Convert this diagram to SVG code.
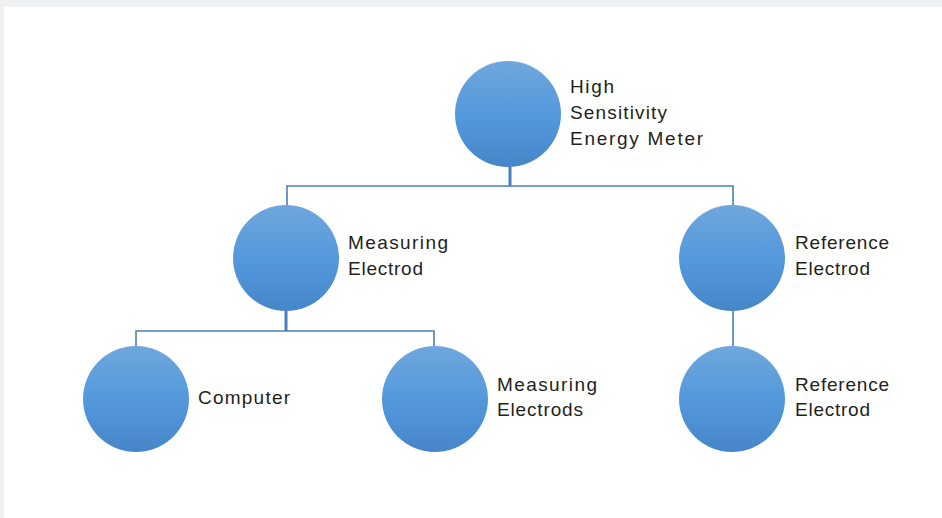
<svg xmlns="http://www.w3.org/2000/svg" width="942" height="518" viewBox="0 0 942 518">
  <defs>
    <linearGradient id="g" x1="0" y1="0" x2="0" y2="1">
      <stop offset="0" stop-color="#6fa7dc"/>
      <stop offset="0.5" stop-color="#5499dc"/>
      <stop offset="1" stop-color="#4686c9"/>
    </linearGradient>
  </defs>
  <style>
    .node circle { fill: url(#g); }
    .lbl { font-family: "Liberation Sans", Arial, sans-serif; font-size: 19px; fill: #231f20; }
    .conn { stroke: #4a80b8; fill: none; stroke-width: 1.6; }
    .stem { stroke-width: 3; }
  </style>
  <rect x="0" y="0" width="942" height="518" fill="#eff0f2"/>
  <rect x="4" y="7" width="938" height="511" fill="#ffffff"/>

  <g id="connectors">
    <path class="conn stem" d="M510 167 V186"/>
    <path class="conn" d="M287 205 V186 H733 V205"/>
    <path class="conn stem" d="M286 311 V331"/>
    <path class="conn" d="M136 347 V331 H434 V347"/>
    <path class="conn" d="M733 311 V347"/>
  </g>

  <g id="node-meter" class="node">
    <circle cx="508" cy="114" r="53"/>
    <text class="lbl" x="570" y="93" textLength="44" lengthAdjust="spacing">High</text>
    <text class="lbl" x="570" y="119" textLength="97" lengthAdjust="spacing">Sensitivity</text>
    <text class="lbl" x="570" y="145" textLength="133" lengthAdjust="spacing">Energy Meter</text>
  </g>

  <g id="node-measuring" class="node">
    <circle cx="286" cy="258" r="53"/>
    <text class="lbl" x="348" y="249" textLength="100" lengthAdjust="spacing">Measuring</text>
    <text class="lbl" x="348" y="275" textLength="75" lengthAdjust="spacing">Electrod</text>
  </g>

  <g id="node-reference" class="node">
    <circle cx="732" cy="258" r="53"/>
    <text class="lbl" x="795" y="249" textLength="94" lengthAdjust="spacing">Reference</text>
    <text class="lbl" x="795" y="275" textLength="75" lengthAdjust="spacing">Electrod</text>
  </g>

  <g id="node-computer" class="node">
    <circle cx="136" cy="399" r="53"/>
    <text class="lbl" x="198" y="404" textLength="92" lengthAdjust="spacing">Computer</text>
  </g>

  <g id="node-measuring-electrods" class="node">
    <circle cx="435" cy="399" r="53"/>
    <text class="lbl" x="497" y="391" textLength="100" lengthAdjust="spacing">Measuring</text>
    <text class="lbl" x="497" y="416" textLength="86" lengthAdjust="spacing">Electrods</text>
  </g>

  <g id="node-reference-2" class="node">
    <circle cx="732" cy="399" r="53"/>
    <text class="lbl" x="795" y="391" textLength="94" lengthAdjust="spacing">Reference</text>
    <text class="lbl" x="795" y="416" textLength="75" lengthAdjust="spacing">Electrod</text>
  </g>
</svg>
